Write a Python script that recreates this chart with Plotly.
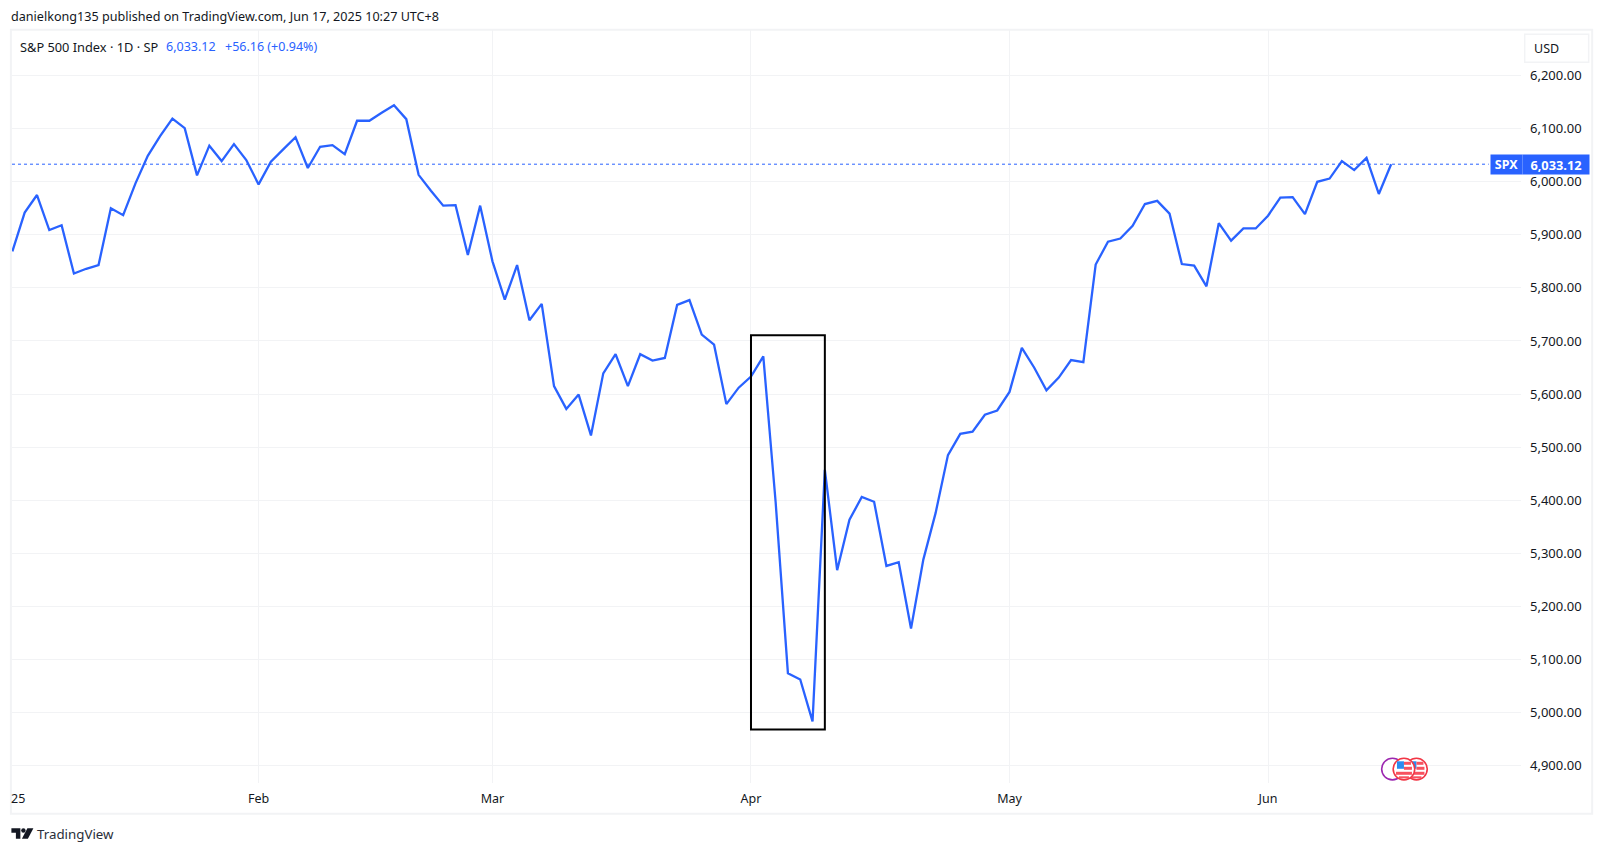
import plotly.graph_objects as go

W, H = 1604, 853
PL, PR, PT, PB = 11.6, 1521.3, 30.2, 782.7

dates = (
    ["2025-01-%02d" % d for d in [2,3,6,7,8,10,13,14,15,16,17,21,22,23,24,27,28,29,30,31]]
    + ["2025-02-%02d" % d for d in [3,4,5,6,7,10,11,12,13,14,18,19,20,21,24,25,26,27,28]]
    + ["2025-03-%02d" % d for d in [3,4,5,6,7,10,11,12,13,14,17,18,19,20,21,24,25,26,27,28,31]]
    + ["2025-04-%02d" % d for d in [1,2,3,4,7,8,9,10,11,14,15,16,17,21,22,23,24,25,28,29,30]]
    + ["2025-05-%02d" % d for d in [1,2,5,6,7,8,9,12,13,14,15,16,19,20,21,22,23,27,28,29,30]]
    + ["2025-06-%02d" % d for d in [2,3,4,5,6,9,10,11,12,13,16]]
)
closes = [
    5869,5942,5975,5909,5918,5827,5836,5843,5950,5937,5997,6049,6086,6119,6101,6012,6068,6039,6071,6041,
    5995,6038,6061,6084,6026,6066,6069,6052,6115,6115,6130,6144,6118,6013,5983,5955,5956,5862,5955,
    5850,5778,5843,5739,5770,5615,5572,5599,5522,5639,5675,5615,5675,5663,5668,5768,5777,5712,5693,5581,5612,
    5633,5671,5397,5074,5062,4983,5457,5268,5363,5406,5397,5276,5283,5158,5288,5376,5485,5525,5529,5561,5569,
    5604,5687,5650,5607,5631,5664,5660,5844,5887,5893,5917,5958,5964,5940,5845,5842,5803,5922,5889,5912,5912,
    5936,5970,5971,5939,6000,6006,6039,6022,6045,5977,6033.12,
]
month_ticks = ["2025-02-03","2025-03-03","2025-04-01","2025-05-01","2025-06-02"]
month_labels = ["Feb","Mar","Apr","May","Jun"]
price_ticks = [4900,5000,5100,5200,5300,5400,5500,5600,5700,5800,5900,6000,6100,6200]
last_price = 6033.12
box_dates = ["2025-04-01","2025-04-09"]
box_prices = [4968,5711]

BLUE = "#2962ff"; GRID = "#f2f3f5"; INK = "#131722"
FONT = "Noto Sans"

def fx(p): return (p-PL)/(PR-PL)
def fy(p): return (PB-p)/(PB-PT)

fig = go.Figure(go.Scatter(x=dates, y=closes, mode="lines",
    line=dict(color=BLUE, width=2.3), hoverinfo="skip", showlegend=False))

shapes = []
def rect(x0,y0,x1,y1,fill=None,line=None,lw=1,layer="above"):
    shapes.append(dict(type="rect",xref="paper",yref="paper",x0=fx(x0),x1=fx(x1),y0=fy(y0),y1=fy(y1),
        fillcolor=fill or "rgba(0,0,0,0)",line=dict(color=line or "rgba(0,0,0,0)",width=lw if line else 0),layer=layer))
def circle(cx,cy,r,fill,line,lw):
    shapes.append(dict(type="circle",xref="paper",yref="paper",x0=fx(cx-r),x1=fx(cx+r),y0=fy(cy-r),y1=fy(cy+r),
        fillcolor=fill,line=dict(color=line,width=lw),layer="above"))

# outer frame
rect(10.5,30,1592.5,813.5,line=GRID,lw=2)
# last price dotted line
shapes.append(dict(type="line",xref="paper",yref="y",x0=0,x1=fx(1489),y0=last_price,y1=last_price,
    line=dict(color=BLUE,width=1,dash="dot"),layer="above"))
# drawn rectangle
shapes.append(dict(type="rect",xref="x",yref="y",x0=box_dates[0],x1=box_dates[1],y0=box_prices[0],y1=box_prices[1],
    line=dict(color="#000000",width=2),fillcolor="rgba(0,0,0,0)",layer="above"))
# USD box
rect(1525,34.5,1589,62.5,line=GRID,lw=1.5)
# event icons
circle(1392.7,768.8,10.8,"#ffffff","#9c27b0",1.6)
for cx in (1416.7,1404.2):
    circle(cx,768.8,10.8,"#ffffff","#f23645",1.6)
    rect(cx-7,761,cx,768.5,fill="#2a8cf0")
    rect(cx,761.5,cx+7,764.5,fill="#f7525f")
    rect(cx,766.5,cx+8,769.5,fill="#f7525f")
    rect(cx-8,771.5,cx+8,774.5,fill="#f7525f")
    rect(cx-5,776,cx+5,778,fill="#f7525f")
# logo
def path(pts):
    d = "M " + " L ".join(f"{fx(x):.5f},{fy(y):.5f}" for x,y in pts) + " Z"
    shapes.append(dict(type="path",xref="paper",yref="paper",path=d,fillcolor=INK,line=dict(width=0),layer="above"))
path([(11,828),(20,828),(20,838.5),(15.5,838.5),(15.5,832.5),(11,832.5)])
circle(23,830.2,2.2,INK,INK,0)
path([(27,828),(33,828),(27.5,838.5),(21.5,838.5)])

def txt(s,x,y,size=12,color=INK,anchor="left"):
    return dict(text=s,xref="paper",yref="paper",x=fx(x),y=fy(y),
        xanchor=anchor,yanchor="middle",showarrow=False,font=dict(family=FONT,size=size,color=color))

ann = [
    txt("danielkong135 published on TradingView.com, Jun 17, 2025 10:27 UTC+8",9,17,12.6),
    txt("S&amp;P 500 Index · 1D · SP",18,47,12.8),
    txt("6,033.12",164,47,12.5,BLUE),
    txt("+56.16 (+0.94%)",223,47,12.5,BLUE),
    txt("USD",1532,49,12.5),
    txt("25",8.5,798,12.5),
    txt("TradingView",35,834,13.3,"#2a2e39"),
    dict(text="<b>SPX</b>",xref="paper",yref="y",x=fx(1490),y=last_price,xanchor="left",yanchor="middle",
         showarrow=False,width=31,height=19,bgcolor=BLUE,font=dict(family=FONT,size=12.5,color="#ffffff"),borderpad=0),
    dict(text="<b>6,033.12</b>",xref="paper",yref="y",x=fx(1522),y=last_price,xanchor="left",yanchor="middle",
         showarrow=False,width=66,height=19,bgcolor=BLUE,font=dict(family=FONT,size=12.8,color="#ffffff"),borderpad=0),
]

fig.update_layout(
    width=W,height=H,autosize=False,
    margin=dict(l=PL,r=W-PR,t=PT,b=H-PB,pad=0),
    paper_bgcolor="#ffffff",plot_bgcolor="#ffffff",
    font=dict(family=FONT,size=12,color=INK),
    shapes=shapes,annotations=ann,showlegend=False,
    xaxis=dict(type="category",categoryorder="array",categoryarray=dates,range=[-0.03,122.55],
        tickmode="array",tickvals=month_ticks,ticktext=month_labels,showgrid=True,gridcolor=GRID,gridwidth=1,
        zeroline=False,showline=False,ticks="",ticklabelstandoff=6,tickfont=dict(family=FONT,size=12.5,color=INK)),
    yaxis=dict(side="right",range=[4867,6286],tickmode="array",tickvals=price_ticks,tickformat=",.2f",
        showgrid=True,gridcolor=GRID,gridwidth=1,zeroline=False,showline=False,ticks="",ticklabelstandoff=8,
        tickfont=dict(family=FONT,size=13,color=INK)),
)
fig.write_html("out.html",config={"displayModeBar":False},
    post_script="document.body.style.margin='0';document.body.style.overflow='hidden';")
